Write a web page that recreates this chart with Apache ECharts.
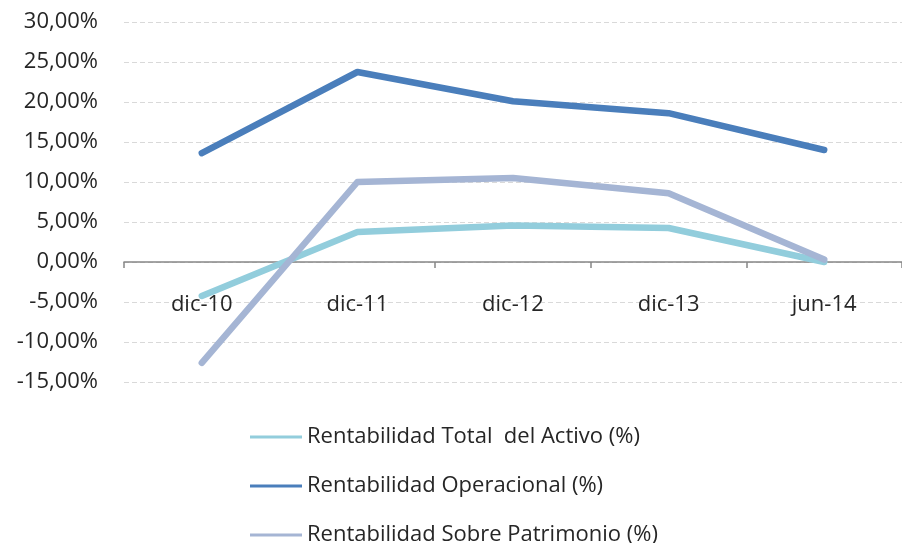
<!DOCTYPE html>
<html>
<head>
<meta charset="utf-8">
<script src="https://cdn.jsdelivr.net/npm/echarts@6/dist/echarts.min.js"></script>
<style>
  html, body { margin: 0; padding: 0; background: #fff; }
  #chart { width: 902px; height: 543px; }
</style>
</head>
<body>
<div id="chart"></div>
<script>
var categories = ['dic-10', 'dic-11', 'dic-12', 'dic-13', 'jun-14'];
var totalActivo = [-4.25, 3.75, 4.55, 4.25, 0.0];
var operacional = [13.6, 23.75, 20.1, 18.6, 14.0];
var patrimonio = [-12.6, 10.0, 10.5, 8.6, 0.3];
var seriesNames = [
    'Rentabilidad Total  del Activo (%)',
    'Rentabilidad Operacional (%)',
    'Rentabilidad Sobre Patrimonio (%)'
];
var colors = ['#92cddc', '#4a7ebb', '#a5b5d4'];

var chart = echarts.init(document.getElementById('chart'));

var makeLine = function (name, data, color) {
    return {
        name: name,
        type: 'line',
        data: data,
        symbol: 'none',
        color: color,
        lineStyle: { width: 6.5, color: color, cap: 'round', join: 'round' },
        itemStyle: { color: color }
    };
};

var option = {
    animation: false,
    textStyle: { fontFamily: 'Open Sans' },
    grid: { left: 124, right: -10, top: 22, bottom: 161 },
    legend: {
        orient: 'vertical',
        left: 250,
        top: 425,
        height: 200,
        padding: 0,
        itemGap: 25,
        itemWidth: 52,
        itemHeight: 3,
        icon: 'rect',
        textStyle: { fontSize: 22, lineHeight: 24, color: '#262626', fontFamily: 'Open Sans' },
        data: seriesNames
    },
    xAxis: {
        type: 'category',
        data: categories,
        axisLine: { onZero: true, lineStyle: { color: '#868686', width: 1.5 } },
        axisTick: { show: true, length: 6, lineStyle: { color: '#868686', width: 1.5 } },
        axisLabel: { fontSize: 22, color: '#262626', margin: -88 },
        splitLine: { show: false }
    },
    yAxis: {
        type: 'value',
        min: -15,
        max: 30,
        interval: 5,
        axisLine: { show: false },
        axisTick: { show: false },
        axisLabel: {
            fontSize: 22,
            color: '#262626',
            margin: 26,
            formatter: function (v) { return v.toFixed(2).replace('.', ',') + '%'; }
        },
        splitLine: { lineStyle: { color: '#d9d9d9', type: [5, 3], width: 1 } }
    },
    series: [
        makeLine(seriesNames[0], totalActivo, colors[0]),
        makeLine(seriesNames[1], operacional, colors[1]),
        makeLine(seriesNames[2], patrimonio, colors[2])
    ]
};

chart.setOption(option);
</script>
</body>
</html>
